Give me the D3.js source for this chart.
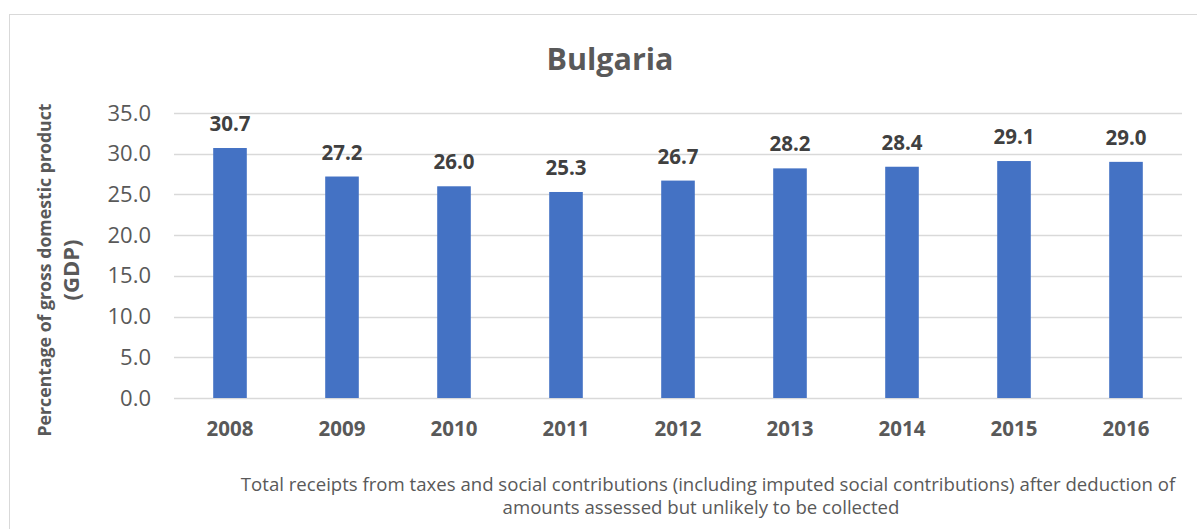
<!DOCTYPE html>
<html>
<head>
<meta charset="utf-8">
<script src="https://cdn.jsdelivr.net/npm/d3@7"></script>
<style>
  html, body { margin: 0; padding: 0; background: #fff; }
  svg text { font-family: "Open Sans", "Noto Sans", sans-serif; }
</style>
</head>
<body>
<div id="chart"></div>
<script>
// Data
const years = ["2008", "2009", "2010", "2011", "2012", "2013", "2014", "2015", "2016"];
const values = [30.7, 27.2, 26.0, 25.3, 26.7, 28.2, 28.4, 29.1, 29.0];
const yTicks = [0, 5, 10, 15, 20, 25, 30, 35];
const title = "Bulgaria";
const yTitleLines = ["Percentage of gross domestic product", "(GDP)"];
const captionLines = [
    "Total receipts from taxes and social contributions (including imputed social contributions) after deduction of",
    "amounts assessed but unlikely to be collected"
];

const W = 1197, H = 529;
const margin = {top: 113, right: 15, bottom: 131, left: 174};
const width = W - margin.left - margin.right,
    height = H - margin.top - margin.bottom;

const svg = d3.select("#chart")
    .append("svg")
    .attr("width", W)
    .attr("height", H);

// Chart frame (only top and left edges show in the picture)
svg.append("rect")
    .attr("x", 9.5)
    .attr("y", 14.5)
    .attr("width", W + 20)
    .attr("height", H + 20)
    .attr("fill", "none")
    .attr("stroke", "#d9d9d9")
    .attr("stroke-width", 1);

// Title
svg.append("text")
    .attr("x", 610)
    .attr("y", 70)
    .attr("text-anchor", "middle")
    .attr("font-size", "30.5px")
    .attr("font-weight", "bold")
    .attr("fill", "#595959")
    .text(title);

const g = svg.append("g")
    .attr("transform", "translate(" + margin.left + "," + margin.top + ")");

const x = d3.scaleBand()
    .domain(years)
    .range([0, width])
    .paddingInner(0.7)
    .paddingOuter(0.35);

const y = d3.scaleLinear()
    .domain([0, 35])
    .range([height, 0]);

// Gridlines
g.append("g")
    .selectAll("line")
    .data(yTicks)
    .enter()
    .append("line")
    .attr("x1", 0)
    .attr("x2", width)
    .attr("y1", d => Math.round(y(d)) + 0.5)
    .attr("y2", d => Math.round(y(d)) + 0.5)
    .attr("stroke", "#d9d9d9")
    .attr("stroke-width", 1.5);

// Y axis labels
const yAxis = g.append("g")
    .call(d3.axisLeft(y).tickValues(yTicks).tickFormat(d3.format(".1f")).tickSize(0).tickPadding(23));
yAxis.select(".domain").remove();
yAxis.selectAll("text")
    .attr("font-size", "22px")
    .attr("font-family", "Open Sans")
    .attr("fill", "#595959");

// X axis labels
const xAxis = g.append("g")
    .attr("transform", "translate(0," + height + ")")
    .call(d3.axisBottom(x).tickSize(0).tickPadding(23));
xAxis.select(".domain").remove();
xAxis.selectAll("text")
    .attr("font-size", "20.5px")
    .attr("font-weight", "bold")
    .attr("font-family", "Open Sans")
    .attr("fill", "#595959");

// Bars
g.append("g")
    .selectAll("rect")
    .data(values)
    .enter()
    .append("rect")
    .attr("x", (d, i) => x(years[i]))
    .attr("y", d => y(d))
    .attr("width", x.bandwidth())
    .attr("height", d => y(0) - y(d))
    .attr("fill", "#4472c4");

// Value labels
g.append("g")
    .selectAll("text")
    .data(values)
    .enter()
    .append("text")
    .attr("x", (d, i) => x(years[i]) + x.bandwidth() / 2)
    .attr("y", d => y(d) - 17)
    .attr("text-anchor", "middle")
    .attr("font-size", "20.5px")
    .attr("font-weight", "bold")
    .attr("fill", "#404040")
    .text(d => d3.format(".1f")(d));

// Y axis title, two lines
svg.append("g")
    .selectAll("text")
    .data(yTitleLines)
    .enter()
    .append("text")
    .attr("transform", (d, i) => "translate(" + (51 + i * 28) + ",270) rotate(-90)")
    .attr("text-anchor", "middle")
    .attr("font-size", (d, i) => i === 0 ? "17.7px" : "22px")
    .attr("font-weight", "bold")
    .attr("fill", "#595959")
    .text(d => d);

// Caption under the axis
svg.append("g")
    .selectAll("text")
    .data(captionLines)
    .enter()
    .append("text")
    .attr("x", (d, i) => i === 0 ? 708 : 701)
    .attr("y", (d, i) => 491 + i * 23)
    .attr("text-anchor", "middle")
    .attr("font-size", "18.6px")
    .attr("fill", "#595959")
    .text(d => d);
</script>
</body>
</html>
